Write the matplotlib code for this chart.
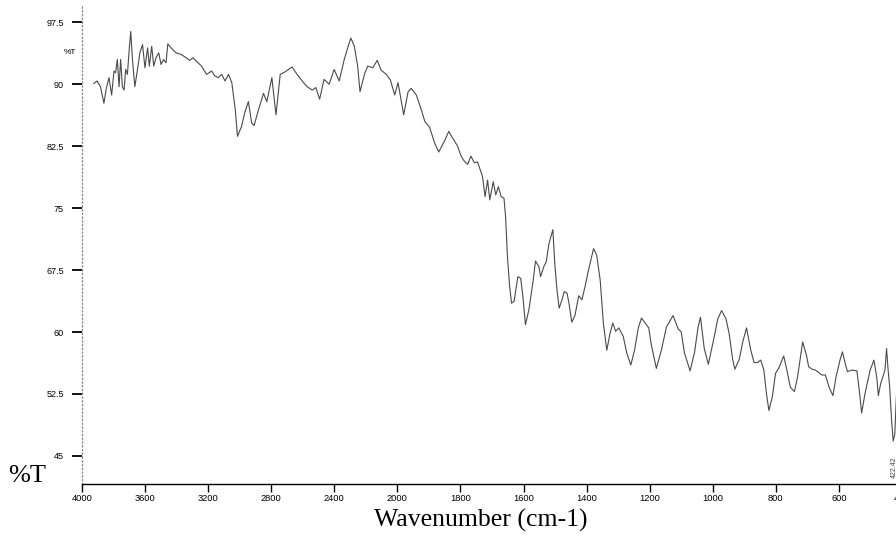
import numpy as np
import matplotlib
matplotlib.use("Agg")
import matplotlib.pyplot as plt

# ----------------------
# FTIR spectrum
# ----------------------
wavenumber = [
    3925, 3904, 3883, 3861, 3846, 3829, 3812, 3797, 3787, 3776, 3765, 3755, 3744, 3733,
    3723, 3712, 3701, 3691, 3680, 3665, 3648, 3633, 3616, 3601, 3584, 3573, 3558, 3545,
    3531, 3513, 3499, 3483, 3467, 3456, 3435, 3403, 3370, 3338, 3317, 3296, 3264, 3242,
    3210, 3178, 3157, 3135, 3114, 3093, 3071, 3050, 3028, 3014, 2988, 2969, 2945, 2924,
    2909, 2881, 2849, 2828, 2796, 2770, 2743, 2713, 2668, 2636, 2604, 2572, 2540, 2517,
    2493, 2465, 2433, 2401, 2369, 2337, 2309, 2295, 2273, 2252, 2237, 2209, 2188, 2156,
    2128, 2103, 2070, 2044, 2017, 1998,
    1980, 1966, 1956, 1940, 1924, 1913, 1898, 1882, 1869, 1851, 1837, 1825, 1809, 1798,
    1788, 1777, 1767, 1756, 1746, 1735, 1730, 1722, 1714, 1707, 1696, 1688, 1680, 1671,
    1662, 1657, 1651, 1644, 1638, 1630, 1618, 1609, 1602, 1594, 1583, 1570, 1562, 1551,
    1546, 1536, 1528, 1520, 1513, 1507, 1501, 1494, 1487, 1478, 1471, 1462, 1456, 1447,
    1437, 1425, 1415, 1405, 1394, 1378, 1368, 1357, 1347, 1336, 1326, 1317, 1308, 1298,
    1284, 1273, 1260, 1248, 1236, 1226, 1213, 1203, 1195, 1179, 1163, 1147, 1126, 1110,
    1100, 1090, 1072, 1058, 1047, 1039, 1027, 1014, 995, 984, 972, 958, 948, 937,
    930, 916, 905, 893, 880, 869, 858, 848, 838, 830, 822, 811, 801, 790,
    775, 764, 754, 741, 731, 722, 715, 703, 696, 685, 675, 664, 654, 643,
    631, 619, 609, 596, 589, 580, 573, 559, 543, 535, 528, 517, 501, 489,
    480, 475, 468, 454, 449, 444, 439, 433, 428, 423, 418, 413,
]
transmittance = [
    90.1, 90.4, 89.7, 87.7, 89.5, 90.8, 88.7, 91.6, 91.4, 93.0, 89.7, 93.0, 89.7, 89.3,
    91.8, 91.2, 94.1, 96.4, 93.0, 89.7, 91.8, 93.8, 94.8, 92.0, 94.4, 92.2, 94.6, 92.2,
    93.2, 93.8, 92.4, 93.0, 92.6, 94.9, 94.4, 93.8, 93.6, 93.2, 92.9, 93.2, 92.6, 92.2,
    91.2, 91.6, 91.0, 90.8, 91.2, 90.4, 91.2, 90.2, 86.9, 83.7, 84.9, 86.5, 87.9, 85.3,
    85.0, 86.9, 88.9, 87.9, 90.8, 86.3, 91.2, 91.5, 92.1, 91.2, 90.4, 89.7, 89.3, 89.6,
    88.2, 90.6, 90.0, 91.8, 90.4, 93.0, 94.8, 95.6, 94.6, 92.2, 89.1, 91.2, 92.2, 92.0,
    92.9, 91.7, 91.2, 90.5, 88.7, 90.2,
    86.3, 89.1, 89.5, 88.7, 86.9, 85.5, 84.8, 82.9, 81.8, 83.1, 84.3, 83.5, 82.5, 81.3,
    80.7, 80.3, 81.3, 80.5, 80.6, 79.4, 78.8, 76.4, 78.4, 76.0, 78.2, 76.6, 77.6, 76.4,
    76.2, 74.0, 69.1, 65.5, 63.5, 63.7, 66.7, 66.5, 64.3, 60.9, 62.7, 66.1, 68.6, 67.9,
    66.7, 67.9, 68.5, 70.6, 71.6, 72.4, 68.3, 65.1, 62.9, 63.9, 64.9, 64.7, 63.5, 61.2,
    62.0, 64.4, 63.9, 65.5, 67.5, 70.1, 69.3, 66.3, 61.1, 57.8, 59.8, 61.1, 60.1, 60.5,
    59.5, 57.5, 56.0, 57.8, 60.5, 61.7, 61.0, 60.5, 58.5, 55.6, 57.8, 60.6, 62.0, 60.4,
    60.0, 57.5, 55.3, 57.5, 60.5, 61.8, 58.0, 56.1, 59.5, 61.6, 62.6, 61.6, 59.8, 56.7,
    55.5, 56.7, 58.8, 60.5, 57.9, 56.3, 56.3, 56.6, 55.4, 52.6, 50.5, 52.2, 55.0, 55.7,
    57.1, 55.2, 53.3, 52.8, 54.6, 57.0, 58.8, 57.2, 55.8, 55.5, 55.4, 55.1, 54.8, 54.8,
    53.3, 52.3, 54.6, 56.7, 57.6, 56.2, 55.2, 55.4, 55.3, 52.8, 50.2, 52.6, 55.4, 56.6,
    54.5, 52.3, 53.7, 55.4, 58.0, 55.4, 53.3, 49.3, 46.8, 47.6, 52.0, 55.0,
]

x_ticks = [4000, 3600, 3200, 2800, 2400, 2000, 1800, 1600, 1400, 1200, 1000, 800, 600, 400]
y_ticks = [45, 52.5, 60, 67.5, 75, 82.5, 90, 97.5]
y_tick_labels = ["45", "52.5", "60", "67.5", "75", "82.5", "90", "97.5"]
peak_label = "422.42"


# scale change at 2000 cm-1 (high range compressed by 2)
def fwd(w):
    w = np.asarray(w, dtype=float)
    return np.where(w > 2000, 2000 + (w - 2000) / 2.0, w)


def inv(u):
    u = np.asarray(u, dtype=float)
    return np.where(u > 2000, 2000 + (u - 2000) * 2.0, u)


fig = plt.figure(figsize=(8.96, 5.46), dpi=100)
ax = fig.add_axes([82 / 896, 1 - 484 / 546, 820 / 896, 479 / 546])

ax.plot(wavenumber, transmittance, color="#4a4a4a", lw=0.8)

ax.set_xscale("function", functions=(fwd, inv))
ax.set_xlim(4000, 400)
ax.set_ylim(41.6, 99.6)

ax.set_xticks(x_ticks)
ax.set_xticklabels([str(t) for t in x_ticks], fontsize=6.7, family="Liberation Sans")
ax.set_yticks(y_ticks)
ax.set_yticklabels(y_tick_labels, fontsize=6.5, family="Liberation Sans")
ax.minorticks_off()

ax.tick_params(axis="x", direction="out", length=6, width=1.0, pad=1.5, colors="black")
ax.tick_params(axis="y", direction="out", length=7, width=1.3, pad=6, colors="black")

for s in ["top", "right"]:
    ax.spines[s].set_visible(False)
ax.spines["bottom"].set_linewidth(1.0)
ax.spines["left"].set_color("#888888")
ax.spines["left"].set_linestyle((0, (1, 2)))
ax.spines["left"].set_linewidth(0.9)

# small %T near the y axis and the peak label
fig.text(70 / 896, 1 - 53 / 546, "%T", fontsize=6, family="Liberation Sans",
         ha="center", va="center")
ax.text(425, 43.6, peak_label, rotation=90, fontsize=5, ha="center", va="center",
        color="#444444", family="Liberation Sans")

# large axis captions
fig.text(8 / 896, 1 - 476 / 546, "%T", fontsize=19, family="Liberation Serif",
         ha="left", va="center")
fig.text(481 / 896, 1 - 520 / 546, "Wavenumber (cm-1)", fontsize=18.5,
         family="Liberation Serif", ha="center", va="center")

fig.savefig("out.png", dpi=100)
